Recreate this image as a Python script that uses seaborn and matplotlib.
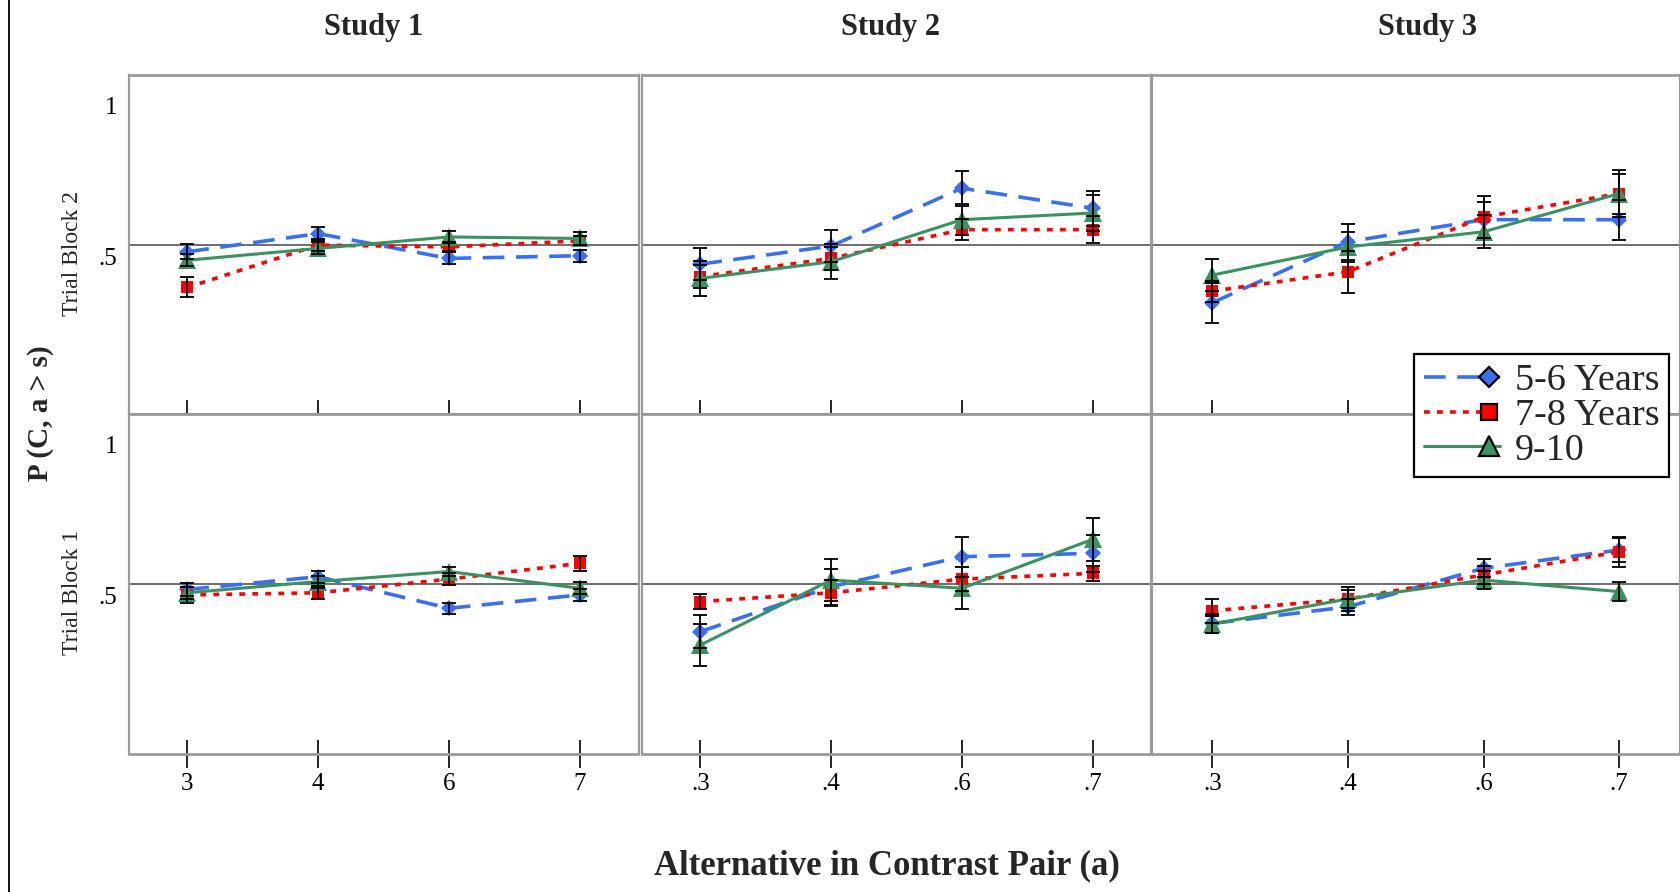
import numpy as np
import pandas as pd
import matplotlib
matplotlib.use("Agg")
import matplotlib.pyplot as plt
import matplotlib.transforms as mtransforms
from matplotlib.lines import Line2D
from matplotlib.legend_handler import HandlerLine2D
import seaborn as sns

# ---------------- data ----------------
studies = ["Study 1", "Study 2", "Study 3"]
blocks = ["Trial Block 2", "Trial Block 1"]
groups = ["5-6 Years", "7-8 Years", "9-10"]
x_study1 = ["3", "4", "6", "7"]
x_study23 = [".3", ".4", ".6", ".7"]

# rows: 5-6 Years, 7-8 Years, 9-10
s1_b2_mean = [[0.476, 0.536, 0.454, 0.463],
              [0.358, 0.498, 0.492, 0.512],
              [0.448, 0.487, 0.525, 0.520]]
s1_b2_err = [[0.025, 0.022, 0.020, 0.020],
             [0.033, 0.020, 0.015, 0.015],
             [0.020, 0.020, 0.020, 0.020]]

s2_b2_mean = [[0.435, 0.495, 0.686, 0.620],
              [0.394, 0.454, 0.549, 0.549],
              [0.388, 0.443, 0.582, 0.604]]
s2_b2_err = [[0.052, 0.053, 0.058, 0.058],
             [0.038, 0.038, 0.035, 0.044],
             [0.057, 0.058, 0.052, 0.058]]

s3_b2_mean = [[0.308, 0.509, 0.582, 0.582],
              [0.346, 0.410, 0.591, 0.668],
              [0.399, 0.492, 0.542, 0.668]]
s3_b2_err = [[0.066, 0.060, 0.060, 0.066],
             [0.035, 0.070, 0.068, 0.066],
             [0.053, 0.050, 0.055, 0.077]]

s1_b1_mean = [[0.482, 0.524, 0.420, 0.464],
              [0.464, 0.471, 0.516, 0.568],
              [0.471, 0.508, 0.541, 0.486]]
s1_b1_err = [[0.020, 0.020, 0.018, 0.020],
             [0.025, 0.022, 0.020, 0.025],
             [0.020, 0.020, 0.015, 0.020]]

s2_b1_mean = [[0.343, 0.491, 0.590, 0.601],
              [0.442, 0.471, 0.516, 0.535],
              [0.299, 0.513, 0.486, 0.647]]
s2_b1_err = [[0.055, 0.060, 0.066, 0.060],
             [0.025, 0.043, 0.040, 0.024],
             [0.068, 0.070, 0.069, 0.072]]

s3_b1_mean = [[0.370, 0.425, 0.552, 0.612],
              [0.412, 0.450, 0.530, 0.606],
              [0.368, 0.451, 0.513, 0.475]]
s3_b1_err = [[0.030, 0.027, 0.030, 0.040],
             [0.040, 0.040, 0.030, 0.050],
             [0.028, 0.030, 0.030, 0.030]]

y_ticks = [0.5, 1.0]
y_ticklabels = [".5", "1"]

# ---------------- styling ----------------
sns.set_theme(style="white")
plt.rcParams["font.family"] = ["Liberation Serif", "DejaVu Serif"]

colors = ["#3a6ff2", "#ff0000", "#3a9262"]
markers = ["D", "s", "^"]
msizes = [8.0, 8.5, 13.0]
lstyles = [(0, (6.0, 3.2)), (0, (1.6, 2.0)), "-"]
lwidths = [2.6, 2.6, 2.2]
spine_col = "#9a9a9a"

W, H = 1680, 892
fig = plt.figure(figsize=(W / 100, H / 100), dpi=100)

cols_px = [(128.5, 638.5), (641.5, 1151.5), (1151.5, 1680)]
rows_px = [(75, 414), (414, 754)]
block_label_y = [253, 592]
title_x = [0.481, 0.489, 0.523]

panel_means = [[s1_b2_mean, s2_b2_mean, s3_b2_mean],
               [s1_b1_mean, s2_b1_mean, s3_b1_mean]]
panel_errs = [[s1_b2_err, s2_b2_err, s3_b2_err],
              [s1_b1_err, s2_b1_err, s3_b1_err]]

label_shift = mtransforms.ScaledTranslation(0, -12 / 100, fig.dpi_scale_trans)

for r, (t, b) in enumerate(rows_px):
    for c, (l, rr) in enumerate(cols_px):
        ax = fig.add_axes([l / W, 1 - b / H, (rr - l) / W, (b - t) / H])
        cats = x_study1 if c == 0 else x_study23
        means = panel_means[r][c]
        errs = panel_errs[r][c]
        ax.axhline(0.5, color="#555555", lw=1.2, zorder=1)
        for g in range(len(groups)):
            df = pd.DataFrame({"x": cats, "p": means[g], "group": groups[g]})
            sns.lineplot(data=df, x="x", y="p", color=colors[g], marker=markers[g],
                         markersize=msizes[g], markeredgewidth=0, markeredgecolor=colors[g],
                         linestyle=lstyles[g], linewidth=lwidths[g], sort=False,
                         errorbar=None, legend=False, ax=ax, zorder=3)
        for g in range(len(groups)):
            ax.errorbar(cats, means[g], yerr=errs[g], fmt="none", ecolor="black",
                        elinewidth=1.3, capsize=5, capthick=1.3, zorder=4)
        ax.set_xlim(-0.45, 3.45)
        ax.set_ylim(-0.06, 1.06)
        ax.set_xlabel("")
        ax.set_ylabel("")
        for sp in ax.spines.values():
            sp.set_color(spine_col)
            sp.set_linewidth(1.6)
        ax.spines["bottom"].set_linewidth(2.0)
        ax.spines["top"].set_linewidth(2.0)
        ax.tick_params(axis="x", direction="inout", length=20, width=1.2, color="black",
                       bottom=True, labelsize=18, pad=4, labelcolor="black")
        if r == 0:
            ax.tick_params(axis="x", labelbottom=False)
            ax.set_title(studies[c], fontsize=22, fontweight="bold", pad=29, x=title_x[c])
        ax.set_yticks(y_ticks)
        if c == 0:
            ax.set_yticklabels(y_ticklabels)
            ax.tick_params(axis="y", length=0, pad=8, labelsize=18, labelcolor="black")
            for lab in ax.get_yticklabels():
                lab.set_transform(lab.get_transform() + label_shift)
            fig.text(73 / W, 1 - block_label_y[r] / H, blocks[r], rotation=90,
                     ha="center", va="center", fontsize=17)
        else:
            ax.tick_params(axis="y", length=0, labelleft=False)

# overall labels
fig.text(40 / W, 1 - 413 / H, "P (C, a > s)", rotation=90, ha="center", va="center",
         fontsize=21, fontweight="bold")
fig.text(887 / W, 1 - 866 / H, "Alternative in Contrast Pair (a)", ha="center",
         va="center", fontsize=25, fontweight="bold")

# left frame line
fig.add_artist(Line2D([9 / W, 9 / W], [0, 1], transform=fig.transFigure,
                      color="black", lw=1.3))


# legend with marker near the right end of the line sample
class EndMarkerHandler(HandlerLine2D):
    def create_artists(self, legend, orig_handle, xdescent, ydescent, width, height,
                       fontsize, trans):
        arts = super().create_artists(legend, orig_handle, xdescent, ydescent, width,
                                      height, fontsize, trans)
        for a in arts:
            xd = np.asarray(a.get_xdata(), dtype=float)
            if len(xd) == 3:
                a.set_xdata([xd[0], xd[0] + 0.86 * (xd[2] - xd[0]), xd[2]])
        return arts


leg_ms = [10.0, 11.0, 15.0]
handles = [Line2D([], [], color=colors[g], linestyle=lstyles[g], lw=lwidths[g],
                  marker=markers[g], markersize=leg_ms[g], markerfacecolor=colors[g],
                  markeredgecolor="black", markeredgewidth=1.6)
           for g in range(len(groups))]
leg = fig.legend(handles, groups, loc="upper left",
                 bbox_to_anchor=(1414 / W, 1 - 354 / H), bbox_transform=fig.transFigure,
                 frameon=True, fancybox=False, framealpha=1, edgecolor="black",
                 fontsize=27.5, labelspacing=0.0, borderpad=0.25, handlelength=2.0,
                 handletextpad=0.4, borderaxespad=0, numpoints=1,
                 handler_map={Line2D: EndMarkerHandler()})
leg.get_frame().set_linewidth(1.6)

fig.savefig("out.png", dpi=100)
